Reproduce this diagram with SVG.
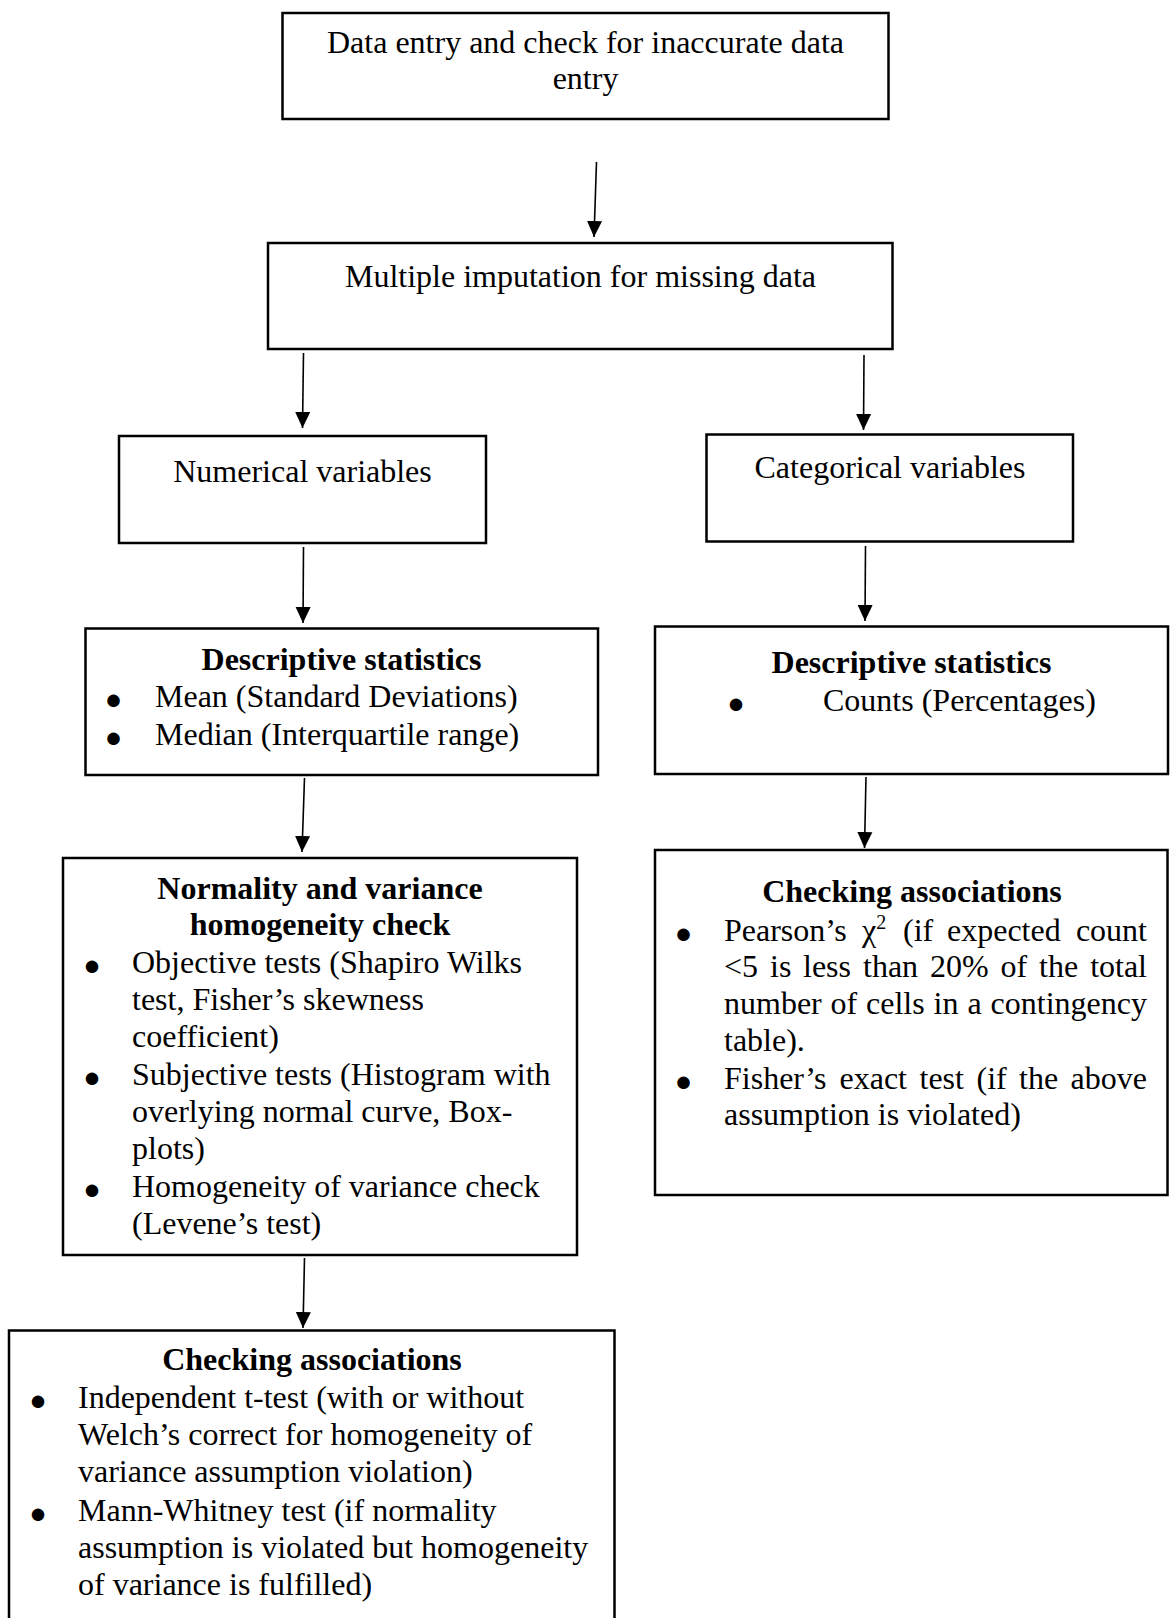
<svg xmlns="http://www.w3.org/2000/svg" width="1172" height="1618" viewBox="0 0 1172 1618">
<style>
.box{fill:#fff;stroke:#000;stroke-width:2.5}
text{font-family:"Liberation Serif","Times New Roman",serif;font-size:32px;fill:#000}
.c{text-anchor:middle}
.b{font-weight:bold;text-anchor:middle}
.bul{font-size:29px;text-anchor:middle}
.e{text-anchor:end}
.sup{font-size:20px}
.conn line{stroke:#000;stroke-width:1.6;marker-end:url(#ah)}
</style>
<defs>
<marker id="ah" markerUnits="userSpaceOnUse" markerWidth="16" markerHeight="17" refX="17" refY="8" orient="auto" viewBox="0 0 17 16">
<path d="M0,0 L17,8 L0,16 z" fill="#000"/>
</marker>
</defs>
<rect width="1172" height="1618" fill="#fff"/>
<g class="conn">
<line x1="596.5" y1="162" x2="594" y2="237"/>
<line x1="303.5" y1="353" x2="302.5" y2="428"/>
<line x1="864" y1="355" x2="863.5" y2="430"/>
<line x1="303.5" y1="547" x2="303" y2="623"/>
<line x1="865.5" y1="546" x2="865" y2="621"/>
<line x1="304.5" y1="778" x2="302" y2="852"/>
<line x1="866" y1="777" x2="864.5" y2="848"/>
<line x1="304.5" y1="1258" x2="303" y2="1328"/>
</g>
<g id="n1">
<rect class="box" x="282.5" y="13" width="606" height="106"/>
<text class="c" x="585.5" y="53">Data entry and check for inaccurate data</text>
<text class="c" x="585.5" y="89">entry</text>
</g>
<g id="n2">
<rect class="box" x="268" y="243" width="624.5" height="106"/>
<text class="c" x="580.5" y="287">Multiple imputation for missing data</text>
</g>
<g id="n3">
<rect class="box" x="119" y="436" width="367" height="107"/>
<text class="c" x="302.5" y="482">Numerical variables</text>
</g>
<g id="n4">
<rect class="box" x="706.5" y="434.5" width="366.5" height="107"/>
<text class="c" x="890" y="478">Categorical variables</text>
</g>
<g id="n5">
<rect class="box" x="85.5" y="628.5" width="512.5" height="146.5"/>
<text class="b" x="341.5" y="670">Descriptive statistics</text>
<text class="bul" x="113.5" y="709">●</text>
<text x="155" y="707">Mean (Standard Deviations)</text>
<text class="bul" x="113.5" y="747">●</text>
<text x="155" y="745">Median (Interquartile range)</text>
</g>
<g id="n6">
<rect class="box" x="655" y="626.5" width="513" height="147.5"/>
<text class="b" x="911.5" y="673">Descriptive statistics</text>
<text class="bul" x="736" y="713">●</text>
<text x="823" y="711">Counts (Percentages)</text>
</g>
<g id="n7">
<rect class="box" x="63" y="858" width="514" height="397"/>
<text class="b" x="320" y="899">Normality and variance</text>
<text class="b" x="320" y="935">homogeneity check</text>
<text class="bul" x="92" y="975">●</text>
<text x="132" y="973">Objective tests (Shapiro Wilks</text>
<text x="132" y="1010">test, Fisher’s skewness</text>
<text x="132" y="1047">coefficient)</text>
<text class="bul" x="92" y="1087">●</text>
<text x="132" y="1085">Subjective tests (Histogram with</text>
<text x="132" y="1122">overlying normal curve, Box-</text>
<text x="132" y="1159">plots)</text>
<text class="bul" x="92" y="1199">●</text>
<text x="132" y="1197">Homogeneity of variance check</text>
<text x="132" y="1234">(Levene’s test)</text>
</g>
<g id="n8">
<rect class="box" x="655" y="850" width="512.5" height="345"/>
<text class="b" x="912" y="902">Checking associations</text>
<text class="bul" x="683.5" y="943">●</text>
<text y="941"><tspan x="724">Pearson’s</tspan><tspan x="862">χ</tspan><tspan class="sup" dy="-12">2</tspan><tspan x="903" dy="12">(if</tspan><tspan x="947">expected</tspan></text>
<text class="e" x="1147" y="941">count</text>
<text y="977"><tspan x="724">&lt;5</tspan><tspan x="770">is</tspan><tspan x="803">less</tspan><tspan x="863">than</tspan><tspan x="930">20%</tspan><tspan x="1000.5">of</tspan><tspan x="1039">the</tspan></text>
<text class="e" x="1147" y="977">total</text>
<text y="1014"><tspan x="724">number</tspan><tspan x="830.5">of</tspan><tspan x="866">cells</tspan><tspan x="933.5">in</tspan><tspan x="967.5">a</tspan></text>
<text class="e" x="1147" y="1014">contingency</text>
<text x="724" y="1051">table).</text>
<text class="bul" x="683.5" y="1091">●</text>
<text y="1089"><tspan x="724">Fisher’s</tspan><tspan x="839.5">exact</tspan><tspan x="919.5">test</tspan><tspan x="976.5">(if</tspan><tspan x="1019">the</tspan></text>
<text class="e" x="1147" y="1089">above</text>
<text x="724" y="1125">assumption is violated)</text>
</g>
<g id="n9">
<rect class="box" x="9" y="1330.5" width="605.5" height="320"/>
<text class="b" x="312" y="1370">Checking associations</text>
<text class="bul" x="38" y="1410">●</text>
<text x="78" y="1408">Independent t-test (with or without</text>
<text x="78" y="1445">Welch’s correct for homogeneity of</text>
<text x="78" y="1482">variance assumption violation)</text>
<text class="bul" x="38" y="1523">●</text>
<text x="78" y="1521">Mann-Whitney test (if normality</text>
<text x="78" y="1558">assumption is violated but homogeneity</text>
<text x="78" y="1595">of variance is fulfilled)</text>
</g>
</svg>
